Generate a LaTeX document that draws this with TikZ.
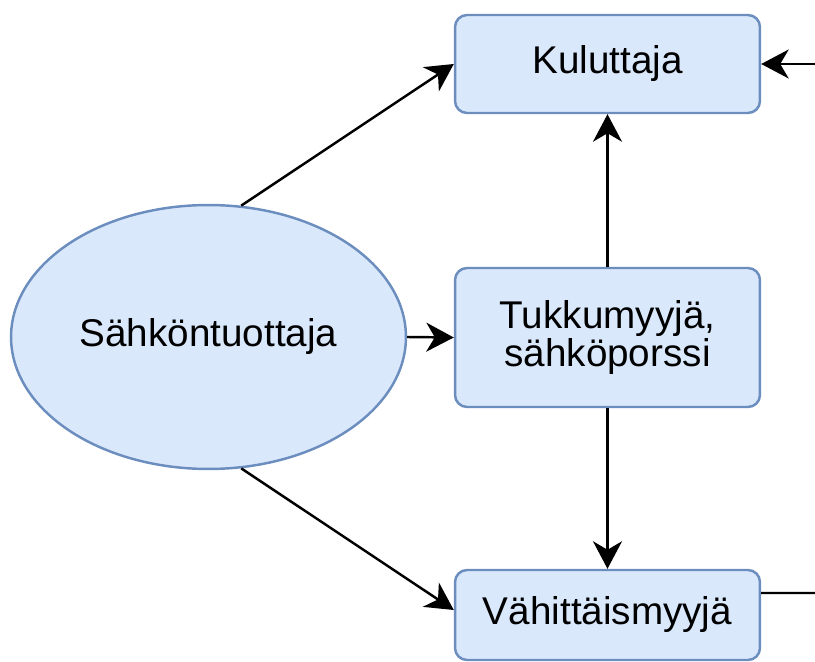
\documentclass[tikz,border=0pt]{standalone}
\usepackage{fontspec}
\setmainfont{Liberation Sans}
\usetikzlibrary{arrows.meta,shapes.geometric}
\definecolor{boxfill}{HTML}{DAE8FC}
\definecolor{boxline}{HTML}{6C8EBF}
\begin{document}
\begin{tikzpicture}[x=0.02cm, y=-0.02cm,
        block/.style={draw=boxline, fill=boxfill, line width=1.4pt, rounded corners=0.24cm,
            minimum width=6.1cm, align=center, font=\fontsize{22}{21.5}\selectfont},
        source/.style={ellipse, draw=boxline, fill=boxfill, line width=1.4pt,
            minimum width=7.9cm, minimum height=5.28cm, font=\fontsize{22}{21.5}\selectfont},
        flow/.style={line width=1.4pt, -{Stealth[length=0.55cm, width=0.58cm, inset=0.17cm]}}]
        \useasboundingbox (0,0) rectangle (815,662);
        \node [source] (tuottaja) at (208.5,337) {Sähköntuottaja};
        \node [block, minimum height=1.96cm] (kuluttaja) at (607.5,64) {Kuluttaja};
        \node [block, minimum height=2.78cm] (tukku) at (607.5,337.5) {Tukkumyyjä,\\sähköporssi};
        \node [block, minimum height=1.8cm] (vahittais) at (607.5,615) {Vähittäismyyjä};
        \coordinate (ulko1) at (815,64);
        \coordinate (ulko2) at (815,593);
        \draw [flow] (tuottaja.76) -- (kuluttaja.west);
        \draw [flow] (tuottaja.east) -- (tukku.west);
        \draw [flow] (tuottaja.-76) -- ([yshift=0.1cm]vahittais.west);
        \draw [flow] (tukku.north) -- (kuluttaja.south);
        \draw [flow] (tukku.south) -- (vahittais.north);
        \draw [flow] (ulko1) -- (kuluttaja.east);
        \draw [line width=1.4pt] ([yshift=0.44cm]vahittais.east) -- (ulko2);
\end{tikzpicture}
\end{document}
